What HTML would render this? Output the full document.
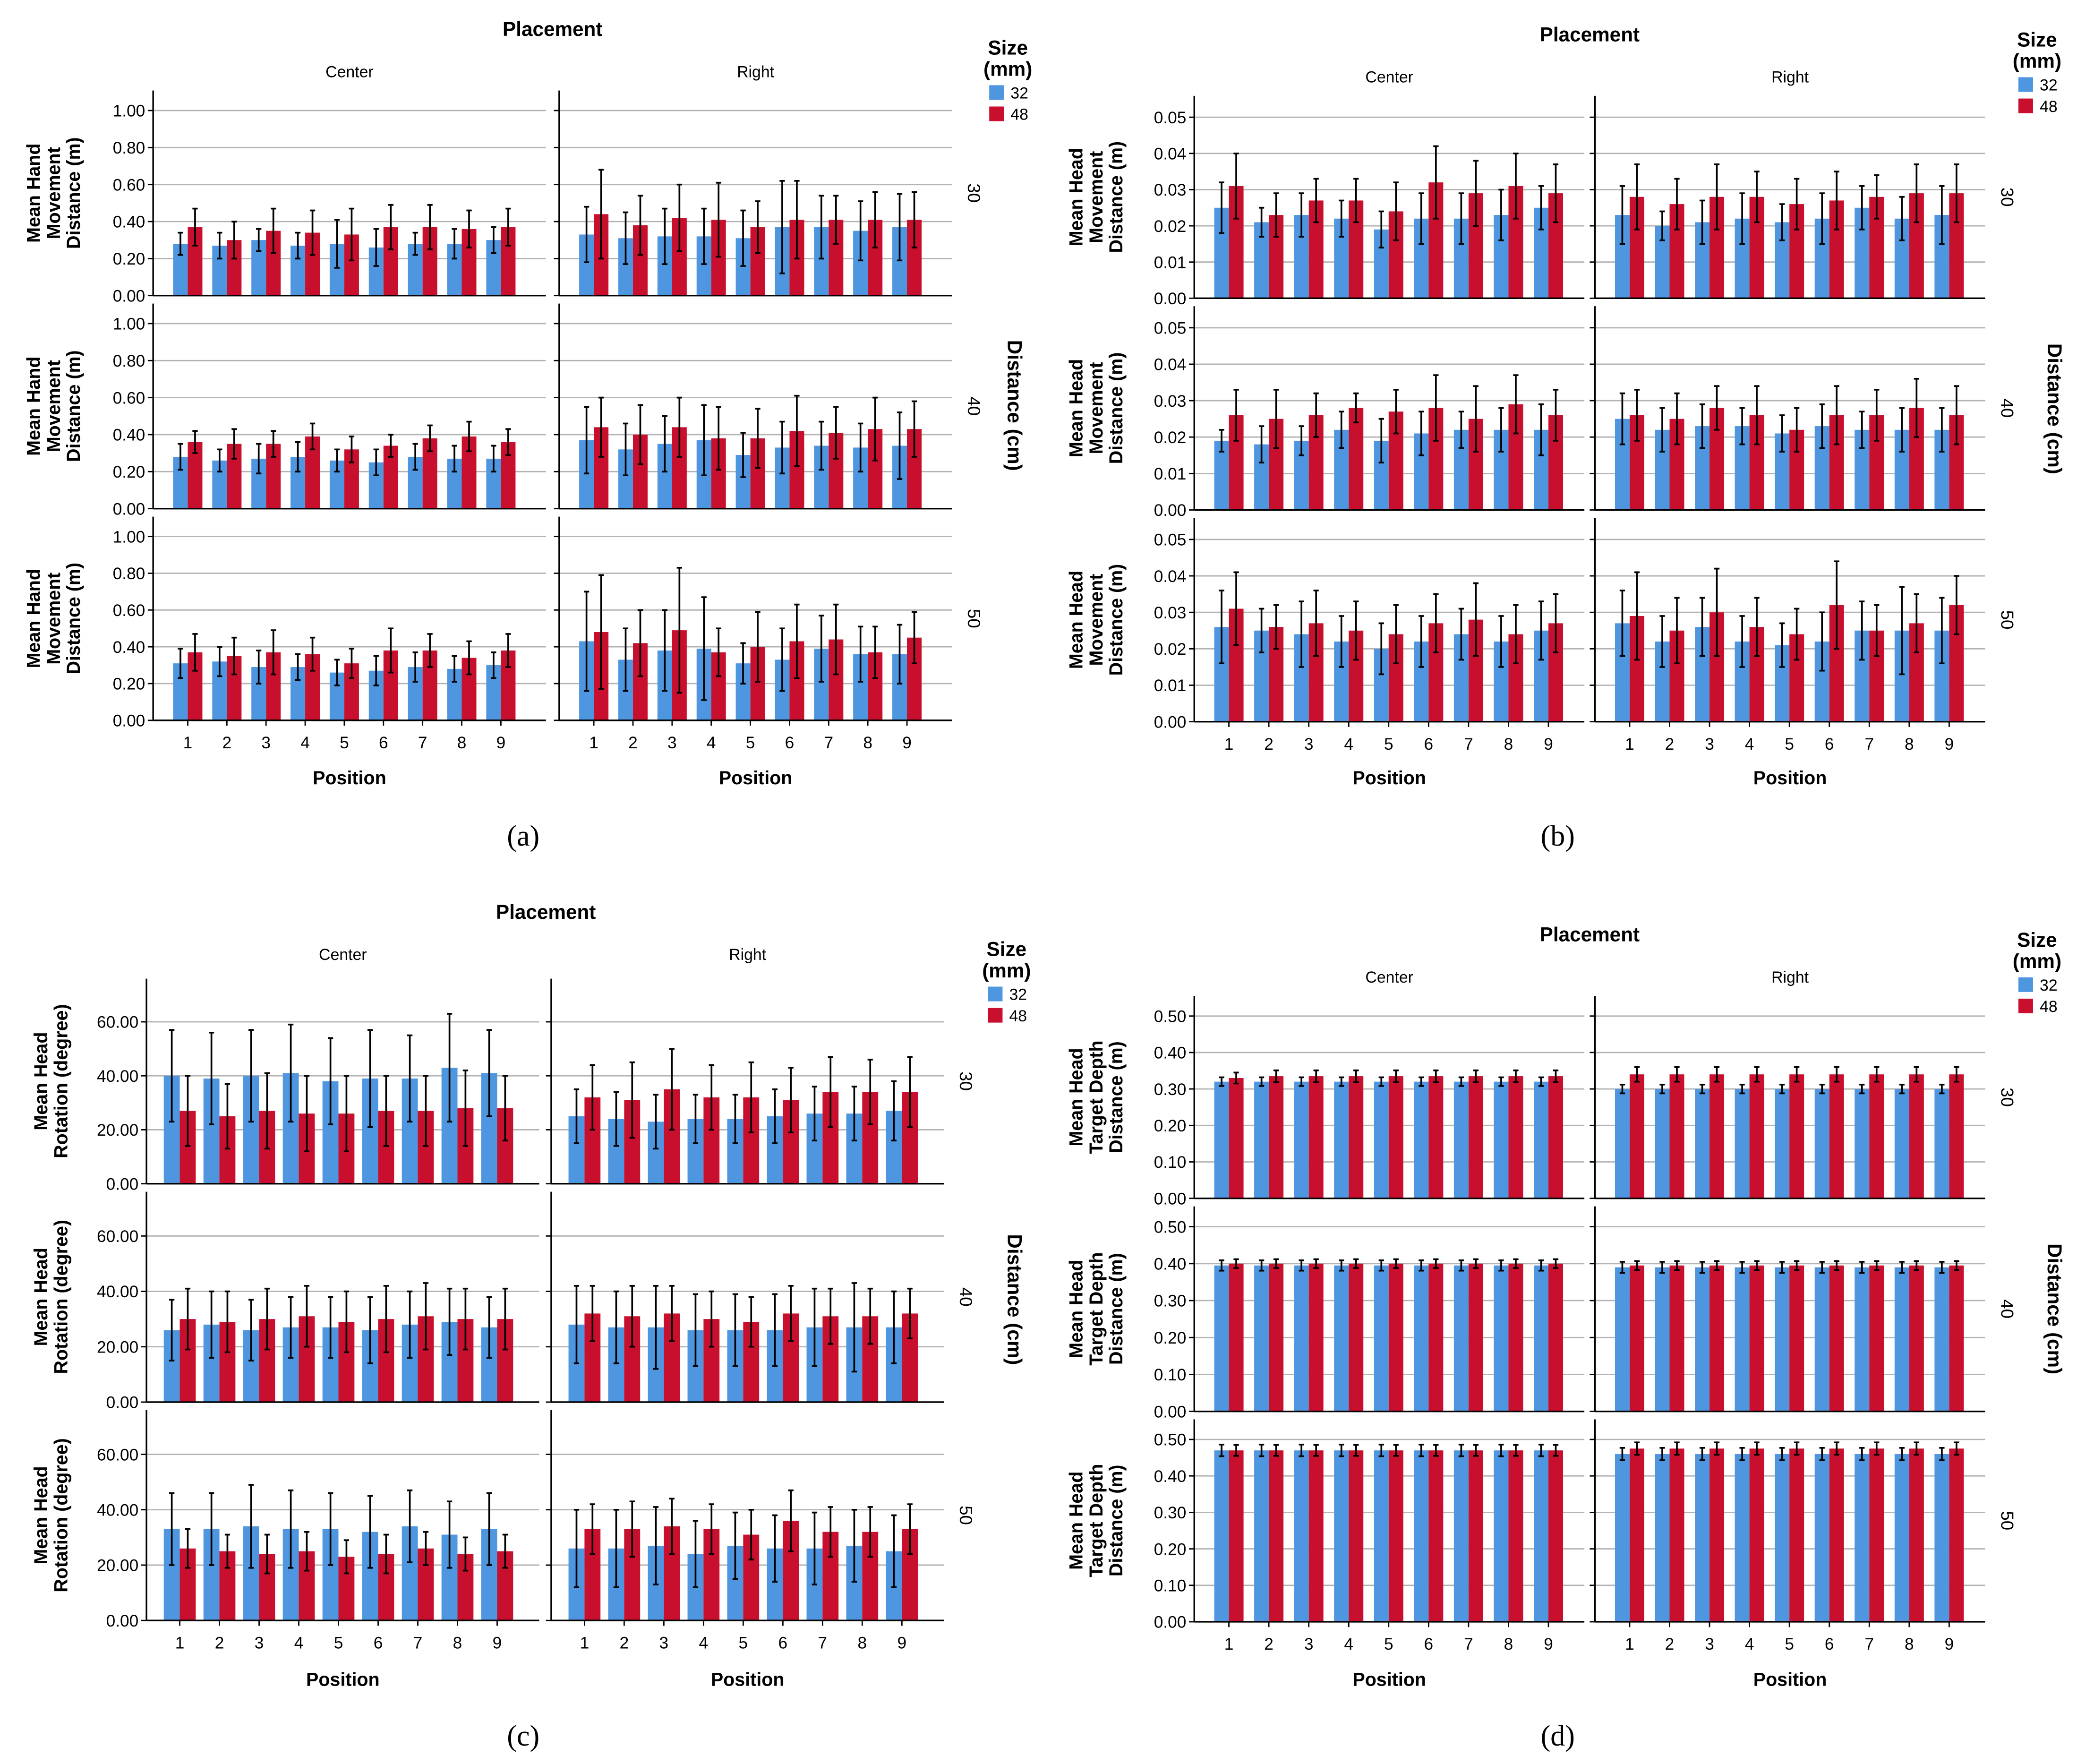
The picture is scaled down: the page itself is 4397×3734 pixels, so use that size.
<!DOCTYPE html>
<html><head><meta charset="utf-8">
<style>
html,body{margin:0;padding:0;background:#fff;}
svg{display:block;}
text{font-family:"Liberation Sans",Arial,sans-serif;fill:#000;}
</style></head>
<body>
<svg id="chart" xmlns="http://www.w3.org/2000/svg" width="4397" height="3734" viewBox="0 0 1560 1324.8"></svg>
<script>
// ---------- data ----------
const positions = ["1","2","3","4","5","6","7","8","9"];
const distances = ["30","40","50"];
const placements = ["Center","Right"];
const sizes = ["32","48"];

// (a) Mean hand movement distance (m)
const handBlue = [
 [[.28,.27,.30,.27,.28,.26,.28,.28,.30],[.33,.31,.32,.32,.31,.37,.37,.35,.37]],
 [[.28,.26,.27,.28,.26,.25,.28,.27,.27],[.37,.32,.35,.37,.29,.33,.34,.33,.34]],
 [[.31,.32,.29,.29,.26,.27,.29,.28,.30],[.43,.33,.38,.39,.31,.33,.39,.36,.36]]];
const handRed = [
 [[.37,.30,.35,.34,.33,.37,.37,.36,.37],[.44,.38,.42,.41,.37,.41,.41,.41,.41]],
 [[.36,.35,.35,.39,.32,.34,.38,.39,.36],[.44,.40,.44,.38,.38,.42,.41,.43,.43]],
 [[.37,.35,.37,.36,.31,.38,.38,.34,.38],[.48,.42,.49,.37,.40,.43,.44,.37,.45]]];
const handBlueErr = [
 [[.06,.07,.06,.07,.13,.10,.06,.08,.07],[.15,.14,.15,.15,.15,.25,.17,.16,.18]],
 [[.07,.06,.08,.08,.06,.07,.07,.07,.07],[.18,.14,.15,.19,.12,.14,.13,.13,.18]],
 [[.08,.08,.09,.07,.07,.08,.08,.07,.07],[.27,.17,.22,.28,.11,.17,.18,.15,.16]]];
const handRedErr = [
 [[.10,.10,.12,.12,.14,.12,.12,.10,.10],[.24,.16,.18,.20,.14,.21,.13,.15,.15]],
 [[.06,.08,.07,.07,.07,.06,.07,.08,.07],[.16,.16,.16,.17,.16,.19,.14,.17,.15]],
 [[.10,.10,.12,.09,.08,.12,.09,.09,.09],[.31,.18,.34,.13,.19,.20,.19,.14,.14]]];

// (b) Mean head movement distance (m)
const headBlue = [
 [[.025,.021,.023,.022,.019,.022,.022,.023,.025],[.023,.020,.021,.022,.021,.022,.025,.022,.023]],
 [[.019,.018,.019,.022,.019,.021,.022,.022,.022],[.025,.022,.023,.023,.021,.023,.022,.022,.022]],
 [[.026,.025,.024,.022,.020,.022,.024,.022,.025],[.027,.022,.026,.022,.021,.022,.025,.025,.025]]];
const headRed = [
 [[.031,.023,.027,.027,.024,.032,.029,.031,.029],[.028,.026,.028,.028,.026,.027,.028,.029,.029]],
 [[.026,.025,.026,.028,.027,.028,.025,.029,.026],[.026,.025,.028,.026,.022,.026,.026,.028,.026]],
 [[.031,.026,.027,.025,.024,.027,.028,.024,.027],[.029,.025,.030,.026,.024,.032,.025,.027,.032]]];
const headBlueErr = [
 [[.007,.004,.006,.005,.005,.007,.007,.007,.006],[.008,.004,.006,.007,.005,.007,.006,.006,.008]],
 [[.003,.005,.004,.005,.006,.006,.005,.006,.007],[.007,.006,.006,.005,.005,.006,.005,.006,.006]],
 [[.010,.006,.009,.007,.007,.007,.007,.007,.008],[.009,.007,.008,.007,.006,.008,.008,.012,.009]]];
const headRedErr = [
 [[.009,.006,.006,.006,.008,.010,.009,.009,.008],[.009,.007,.009,.007,.007,.008,.006,.008,.008]],
 [[.007,.008,.006,.004,.006,.009,.009,.008,.007],[.007,.007,.006,.008,.006,.008,.007,.008,.008]],
 [[.010,.006,.009,.008,.008,.008,.010,.008,.008],[.012,.009,.012,.008,.007,.012,.007,.008,.008]]];

// (c) Mean head rotation (degree)
const rotBlue = [
 [[40,39,40,41,38,39,39,43,41],[25,24,23,24,24,25,26,26,27]],
 [[26,28,26,27,27,26,28,29,27],[28,27,27,26,26,26,27,27,27]],
 [[33,33,34,33,33,32,34,31,33],[26,26,27,24,27,26,26,27,25]]];
const rotRed = [
 [[27,25,27,26,26,27,27,28,28],[32,31,35,32,32,31,34,34,34]],
 [[30,29,30,31,29,30,31,30,30],[32,31,32,30,29,32,31,31,32]],
 [[26,25,24,25,23,24,26,24,25],[33,33,34,33,31,36,32,32,33]]];
const rotBlueErr = [
 [[17,17,17,18,16,18,16,20,16],[10,10,10,9,9,10,10,10,11]],
 [[11,12,11,11,11,12,12,12,11],[14,13,15,13,13,13,14,16,13]],
 [[13,13,15,14,13,13,13,12,13],[14,14,14,12,12,12,13,13,13]]];
const rotRedErr = [
 [[13,12,14,14,14,13,13,14,12],[12,14,15,12,13,12,13,12,13]],
 [[11,11,11,11,11,12,12,11,11],[10,11,10,10,9,10,10,10,9]],
 [[7,6,7,7,6,7,6,6,6],[9,10,10,9,9,11,9,9,9]]];

// (d) Mean head target depth distance (m)
const depthBlue = [
 [[.32,.32,.32,.32,.32,.32,.32,.32,.32],[.30,.30,.30,.30,.30,.30,.30,.30,.30]],
 [[.395,.395,.395,.395,.395,.395,.395,.395,.395],[.39,.39,.39,.39,.39,.39,.39,.39,.39]],
 [[.47,.47,.47,.47,.47,.47,.47,.47,.47],[.46,.46,.46,.46,.46,.46,.46,.46,.46]]];
const depthRed = [
 [[.33,.335,.335,.335,.335,.335,.335,.335,.335],[.34,.34,.34,.34,.34,.34,.34,.34,.34]],
 [[.40,.40,.40,.40,.40,.40,.40,.40,.40],[.395,.395,.395,.395,.395,.395,.395,.395,.395]],
 [[.47,.47,.47,.47,.47,.47,.47,.47,.47],[.475,.475,.475,.475,.475,.475,.475,.475,.475]]];
const depthBlueErr = [
 [[.012,.012,.012,.012,.012,.012,.012,.012,.012],[.012,.012,.012,.012,.012,.012,.012,.012,.012]],
 [[.014,.014,.014,.014,.014,.014,.014,.014,.014],[.015,.015,.015,.015,.015,.015,.015,.015,.015]],
 [[.016,.016,.016,.016,.016,.016,.016,.016,.016],[.017,.017,.017,.017,.017,.017,.017,.017,.017]]];
const depthRedErr = [
 [[.015,.016,.016,.016,.016,.016,.016,.016,.016],[.02,.02,.02,.02,.02,.02,.02,.02,.02]],
 [[.012,.012,.012,.012,.012,.012,.012,.012,.012],[.012,.012,.012,.012,.012,.012,.012,.012,.012]],
 [[.015,.015,.015,.015,.015,.015,.015,.015,.015],[.017,.017,.017,.017,.017,.017,.017,.017,.017]]];

const ticksA = [0,0.2,0.4,0.6,0.8,1.0];
const ticksB = [0,0.01,0.02,0.03,0.04,0.05];
const ticksC = [0,20,40,60];
const ticksD = [0,0.1,0.2,0.3,0.4,0.5];

// ---------- drawing ----------
const NS = "http://www.w3.org/2000/svg";
const root = document.getElementById("chart");
const BLUE = "#4f96e0", RED = "#c8102e", GRID = "#b3b3b3";

function mk(tag, attrs, parent) {
  const e = document.createElementNS(NS, tag);
  for (const k in attrs) e.setAttribute(k, attrs[k]);
  (parent || root).appendChild(e);
  return e;
}
function txt(s, attrs, parent) {
  const t = mk("text", attrs, parent);
  t.textContent = s;
  return t;
}

function panel(cfg) {
  const g = mk("g", {});
  
  
  const pw = cfg.pw;
  const tt = txt("Placement", {x: cfg.titleX, y: cfg.titleY, "text-anchor": "middle", "font-size": 15, "font-weight": "bold"}, g);
  
  
  const lg = mk("g", {}, g);
  
  
  txt("Size", {x: cfg.legX + 12, y: cfg.legY, "text-anchor": "middle", "font-size": 15, "font-weight": "bold"}, lg);
  txt("(mm)", {x: cfg.legX + 12, y: cfg.legY + 16, "text-anchor": "middle", "font-size": 15, "font-weight": "bold"}, lg);
  [BLUE, RED].forEach((c, i) => {
    const sw = mk("rect", {x: cfg.legX - 2, y: cfg.legY + 23 + i * 16, width: 11, height: 11, fill: c}, lg);
    
    
    const lt = txt(sizes[i], {x: cfg.legX + 14, y: cfg.legY + 33 + i * 16, "font-size": 12}, lg);
    
    
  });
  const dm = (cfg.rows[0][0] + cfg.rows[2][1]) / 2;
  const dl = txt("Distance (cm)", {x: cfg.distX, y: dm, "text-anchor": "middle", "font-size": 15, "font-weight": "bold", transform: `rotate(90 ${cfg.distX} ${dm})`}, g);
  
  

  cfg.x0s.forEach((x0, pi) => {
    const ht = txt(placements[pi], {x: x0 + pw / 2, y: cfg.titleY + 31, "text-anchor": "middle", "font-size": 12}, g);
    
    
    const xs = i => x0 + cfg.pad + i * cfg.step;
    cfg.rows.forEach((r, ri) => {
      const [top, bot] = r;
      const ys = v => bot - v / cfg.ymax * (bot - top);
      const cell = mk("g", {}, g);
      
      
      cfg.ticks.forEach(t => {
        if (t > 0) {
          const gl = mk("line", {x1: x0, x2: x0 + pw, y1: ys(t), y2: ys(t), stroke: GRID, "stroke-width": 1}, cell);
          
          
        }
        if (pi === 0) {
          const tl = txt(cfg.fmt(t), {x: x0 - 6, y: ys(t) + 4.5, "text-anchor": "end", "font-size": 12.5}, cell);
          
          
        }
        mk("line", {x1: x0 - 4, x2: x0, y1: ys(t), y2: ys(t), stroke: "#000", "stroke-width": 1}, cell);
      });
      for (let i = 0; i < positions.length; i++) {
        [[cfg.blue, cfg.blueErr, BLUE, -1], [cfg.red, cfg.redErr, RED, 0]].forEach(([vals, errs, col, off], si) => {
          const v = vals[ri][pi][i], e = errs[ri][pi][i];
          const bx = xs(i) + off * cfg.bw;
          const b = mk("rect", {x: bx, y: ys(v), width: cfg.bw, height: bot - ys(v), fill: col}, cell);
          
          
          const cx = bx + cfg.bw / 2;
          const eb = mk("path", {d: `M${cx},${ys(v - e)}V${ys(v + e)}M${cx - 2},${ys(v - e)}h4M${cx - 2},${ys(v + e)}h4`, stroke: "#000", "stroke-width": 1.3, fill: "none"}, cell);
          
          
        });
      }
      mk("line", {x1: x0, x2: x0, y1: top, y2: bot, stroke: "#000", "stroke-width": 1.2}, cell);
      mk("line", {x1: x0, x2: x0 + pw, y1: bot, y2: bot, stroke: "#000", "stroke-width": 1.2}, cell);
      if (pi === 0) {
        const yc = (top + bot) / 2;
        const lines = cfg.ylab;
        const lx = cfg.ylabX;
        const yt = mk("text", {x: lx, y: yc, "text-anchor": "middle", "font-size": 14, "font-weight": "bold", transform: `rotate(-90 ${lx} ${yc})`}, cell);
        
        
        lines.forEach((s, k) => {
          const ts = document.createElementNS(NS, "tspan");
          ts.setAttribute("x", lx);
          ts.setAttribute("dy", k === 0 ? -(lines.length - 1) * 7.5 + 5 : 15);
          ts.textContent = s;
          yt.appendChild(ts);
        });
      } else {
        const rx = x0 + pw + 12, ry = (top + bot) / 2;
        const rl = txt(distances[ri], {x: rx, y: ry, "text-anchor": "middle", "font-size": 13, transform: `rotate(90 ${rx} ${ry})`}, cell);
        
        
      }
      if (ri === 2) {
        positions.forEach((p, i) => {
          mk("line", {x1: xs(i), x2: xs(i), y1: bot, y2: bot + 4, stroke: "#000"}, cell);
          const xl = txt(p, {x: xs(i), y: bot + 21, "text-anchor": "middle", "font-size": 12.5}, cell);
          
          
        });
        const xt = txt("Position", {x: x0 + pw / 2, y: cfg.posY, "text-anchor": "middle", "font-size": 14, "font-weight": "bold"}, cell);
        
        
      }
    });
  });
  const cap = txt(cfg.cap, {x: cfg.capX, y: cfg.capY, "text-anchor": "middle", "font-size": 22, style: 'font-family:"Liberation Serif",serif'}, g);
  
  
}

const f2 = t => t.toFixed(2);
panel({name: "panel-a-hand-movement", x0s: [115, 420], pw: 295, pad: 26, step: 29.4, bw: 11,
  rows: [[68, 222], [228, 382], [388, 541]], ymax: 1.108, ticks: ticksA, fmt: f2,
  blue: handBlue, red: handRed, blueErr: handBlueErr, redErr: handRedErr,
  ylab: ["Mean Hand", "Movement", "Distance (m)"], ylabX: 40,
  titleX: 415, titleY: 27, legX: 745, legY: 41, distX: 757, posY: 589, cap: "(a)", capX: 393, capY: 635});
panel({name: "panel-b-head-movement", x0s: [897, 1198], pw: 293, pad: 26, step: 30, bw: 11,
  rows: [[72, 224], [230, 383], [389, 542]], ymax: 0.0559, ticks: ticksB, fmt: f2,
  blue: headBlue, red: headRed, blueErr: headBlueErr, redErr: headRedErr,
  ylab: ["Mean Head", "Movement", "Distance (m)"], ylabX: 823,
  titleX: 1194, titleY: 31, legX: 1518, legY: 35, distX: 1538, posY: 589, cap: "(b)", capX: 1170, capY: 635});
panel({name: "panel-c-head-rotation", x0s: [110, 414], pw: 295, pad: 25, step: 29.8, bw: 12,
  rows: [[735, 889], [895, 1053], [1059, 1217]], ymax: 76, ticks: ticksC, fmt: f2,
  blue: rotBlue, red: rotRed, blueErr: rotBlueErr, redErr: rotRedErr,
  ylab: ["Mean Head", "Rotation (degree)"], ylabX: 38,
  titleX: 410, titleY: 690, legX: 744, legY: 718, distX: 757, posY: 1266, cap: "(c)", capX: 393, capY: 1311});
panel({name: "panel-d-target-depth", x0s: [897, 1198], pw: 293, pad: 26, step: 30, bw: 11,
  rows: [[748, 900], [906, 1060], [1066, 1218]], ymax: 0.555, ticks: ticksD, fmt: f2,
  blue: depthBlue, red: depthRed, blueErr: depthBlueErr, redErr: depthRedErr,
  ylab: ["Mean Head", "Target Depth", "Distance (m)"], ylabX: 823,
  titleX: 1194, titleY: 707, legX: 1518, legY: 711, distX: 1538, posY: 1266, cap: "(d)", capX: 1170, capY: 1311});
</script>
</body></html>
